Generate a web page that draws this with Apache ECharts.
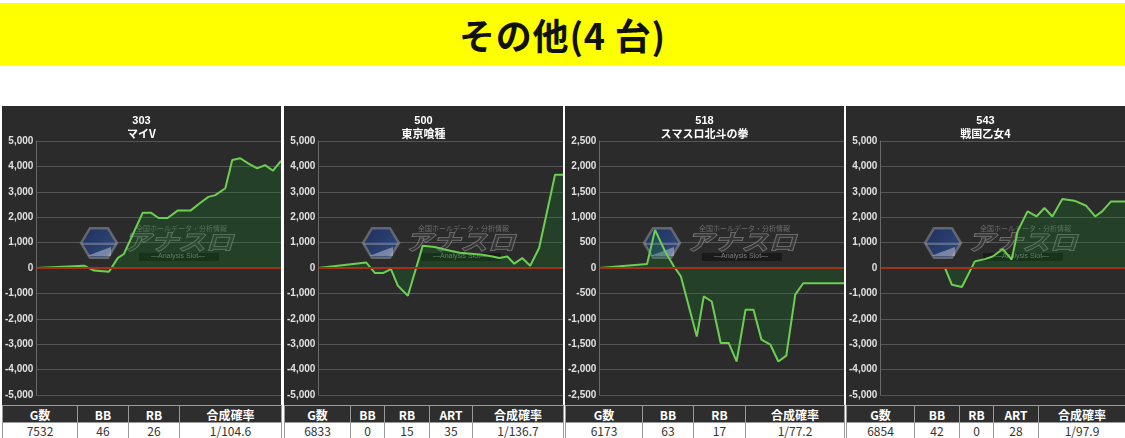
<!DOCTYPE html>
<html>
<head>
<meta charset="utf-8">
<script src="https://cdn.jsdelivr.net/npm/echarts@6/dist/echarts.min.js"></script>
<style>
  html, body { margin:0; padding:0; background:#fff; width:1125px; height:438px; overflow:hidden; font-family:"Noto Sans CJK JP","Noto Sans",sans-serif; }
  #banner { position:absolute; left:0; top:3px; width:1125px; height:63px; background:#ffff00; text-align:center; line-height:63px; font-size:36px; font-weight:bold; color:#111; letter-spacing:0.8px; }
  .panel { position:absolute; top:106px; height:299px; background:#2b2b2b; }
  table.info { position:absolute; top:405px; border-collapse:collapse; table-layout:fixed; font-family:"Noto Sans CJK JP","Noto Sans",sans-serif; }
  table.info th { background:#2e2e2e; color:#fff; font-size:12px; font-weight:bold; height:16px; padding:0; border:1px solid #9a9a9a; line-height:15px; }
  table.info td { background:#fff; color:#333; font-size:12px; height:15px; padding:0; border:1px solid #9a9a9a; text-align:center; line-height:14px; }
</style>
</head>
<body>
<div id="banner">その他(4 台)</div>
<div id="c0" class="panel" style="left:2px;width:279px"></div>
<div id="c1" class="panel" style="left:284px;width:279px"></div>
<div id="c2" class="panel" style="left:565px;width:279px"></div>
<div id="c3" class="panel" style="left:846px;width:279px"></div>
<div id="tables"></div>
<script>
// ---- data ----
const panelIds = ['303', '500', '518', '543'];
const panelNames = ['マイV', '東京喰種', 'スマスロ北斗の拳', '戦国乙女4'];

const p1x = [0, 48, 58, 73, 82, 88, 107, 115, 123, 132, 142, 155, 165, 173, 180, 190, 197, 205, 213, 222, 230, 238, 246];
const p1y = [0, 90, -100, -150, 400, 550, 2180, 2180, 1970, 1970, 2260, 2260, 2570, 2800, 2870, 3140, 4250, 4320, 4120, 3920, 4050, 3830, 4220];

const p2x = [0, 48, 57, 65, 73, 80, 90, 105, 117, 128, 142, 165, 175, 182, 190, 197, 205, 213, 222, 238, 246];
const p2y = [0, 220, -200, -200, -40, -700, -1090, 880, 830, 720, 600, 520, 450, 390, 455, 170, 390, 90, 790, 3670, 3670];

const p3x = [0, 48, 56, 66, 75, 82, 98, 105, 113, 122, 130, 138, 147, 155, 163, 172, 180, 188, 197, 205, 246];
const p3y = [0, 80, 750, 330, 30, -165, -1350, -560, -660, -1475, -1475, -1840, -820, -820, -1410, -1510, -1840, -1725, -525, -300, -300];

const p4x = [0, 65, 72, 82, 95, 105, 113, 123, 132, 138, 148, 157, 165, 173, 183, 195, 207, 216, 223, 232, 246];
const p4y = [0, 0, -660, -750, 260, 350, 455, 750, 330, 1440, 2230, 2030, 2360, 2030, 2720, 2650, 2450, 2030, 2230, 2620, 2620];

const yMins = [-5000, -5000, -2500, -5000];
const yMaxs = [5000, 5000, 2500, 5000];
const yIntervals = [1000, 1000, 500, 1000];

const tableHeads = [
  ['G数', 'BB', 'RB', '合成確率'],
  ['G数', 'BB', 'RB', 'ART', '合成確率'],
  ['G数', 'BB', 'RB', '合成確率'],
  ['G数', 'BB', 'RB', 'ART', '合成確率']
];
const tableRows = [
  ['7532', '46', '26', '1/104.6'],
  ['6833', '0', '15', '35', '1/136.7'],
  ['6173', '63', '17', '1/77.2'],
  ['6854', '42', '0', '28', '1/97.9']
];

// ---- layout (not data) ----
const panelLefts = [2, 284, 565, 846];
const colWidths = [
  [75, 51, 51, 102],
  [66, 34, 45, 43, 91],
  [77, 51, 52, 99],
  [68, 45, 34, 45, 87]
];

const xs = [p1x, p2x, p3x, p4x];
const ys = [p1y, p2y, p3y, p4y];

function watermark() {
  const cx = 97, cy = 137, r = 18;
  const hex = [];
  for (let i = 0; i < 6; i++) {
    const a = Math.PI / 3 * i;
    hex.push([cx + r * Math.cos(a), cy + r * 0.95 * Math.sin(a)]);
  }
  return [
    { type: 'polygon', z: 1, shape: { points: hex },
      style: { fill: new echarts.graphic.LinearGradient(0, 0, 1, 1, [{offset:0,color:'#162f78'},{offset:1,color:'#3563b8'}]),
               stroke: '#8a8a8a', lineWidth: 2.5, opacity: 0.6 } },
    { type: 'polygon', z: 1, shape: { points: [[cx - 12, cy + 13], [cx + 12, cy + 4], [cx + 12, cy + 13]] },
      style: { fill: '#d8d8e8', opacity: 0.45 } },
    { type: 'polygon', z: 1, shape: { points: [[cx - 18, cy], [cx + 18, cy], [cx + 17, cy + 2], [cx - 17, cy + 2]] },
      style: { fill: '#9a9a9a', opacity: 0.5 } },
    { type: 'text', z: 1, x: 121, y: 125, scaleX: 1.25, originX: 0, originY: 0,
      style: { text: 'アナスロ', fontSize: 22, fontWeight: 'bold', fontStyle: 'italic',
               fontFamily: 'Noto Sans CJK JP', fill: 'rgba(60,60,60,0.55)', stroke: 'rgba(175,175,175,0.6)', lineWidth: 1 } },
    { type: 'text', z: 1, x: 134, y: 119,
      style: { text: '全国ホールデータ・分析情報', fontSize: 7, fontFamily: 'Noto Sans CJK JP', fill: 'rgba(150,150,150,0.6)' } },
    { type: 'rect', z: 1, shape: { x: 137, y: 147, width: 80, height: 8 },
      style: { fill: 'rgba(15,15,15,0.6)' } },
    { type: 'text', z: 1, x: 149, y: 147,
      style: { text: '—Analysis Slot—', fontSize: 7, fontFamily: 'Liberation Sans', fill: 'rgba(170,170,170,0.7)' } }
  ];
}

for (let i = 0; i < 4; i++) {
  const chart = echarts.init(document.getElementById('c' + i), null, { renderer: 'canvas' });
  const data = xs[i].map((x, k) => [x, ys[i][k]]);
  chart.setOption({
    animation: false,
    backgroundColor: '#2b2b2b',
    title: {
      text: panelIds[i], subtext: panelNames[i], left: 'center', top: 4, itemGap: 2,
      textStyle: { color: '#fff', fontSize: 11, fontWeight: 'bold', fontFamily: 'Liberation Sans' },
      subtextStyle: { color: '#fff', fontSize: 11, fontWeight: 'bold', fontFamily: 'Noto Sans CJK JP' }
    },
    grid: { left: 33, right: 0, top: 35, bottom: 10 },
    xAxis: { type: 'value', min: 0, max: xs[i][xs[i].length - 1], show: false },
    yAxis: {
      type: 'value', min: yMins[i], max: yMaxs[i], interval: yIntervals[i],
      axisLine: { show: true, lineStyle: { color: '#6a6a6a', width: 1 } },
      axisTick: { show: false },
      splitLine: { lineStyle: { color: '#555', width: 1 } },
      axisLabel: { color: '#e0e0e0', fontSize: 10, fontWeight: 'bold', fontFamily: 'Liberation Sans', margin: 3,
        formatter: v => v.toLocaleString('en-US') }
    },
    graphic: watermark(),
    series: [{
      type: 'line', data: data, symbol: 'none', z: 3,
      lineStyle: { color: '#6ccf52', width: 2 },
      areaStyle: { color: 'rgba(20,140,30,0.32)', origin: 0 },
      markLine: { silent: true, symbol: 'none', label: { show: false },
        lineStyle: { color: '#a0331a', width: 2, type: 'solid' },
        data: [{ yAxis: 0 }] }
    }]
  });
}

// tables
let html = '';
for (let i = 0; i < 4; i++) {
  html += '<table class="info" style="left:' + panelLefts[i] + 'px;width:279px"><colgroup>';
  colWidths[i].forEach(w => { html += '<col style="width:' + w + 'px">'; });
  html += '</colgroup><tr>';
  tableHeads[i].forEach(h => { html += '<th>' + h + '</th>'; });
  html += '</tr><tr>';
  tableRows[i].forEach(d => { html += '<td>' + d + '</td>'; });
  html += '</tr></table>';
}
document.getElementById('tables').innerHTML = html;
</script>
</body>
</html>
